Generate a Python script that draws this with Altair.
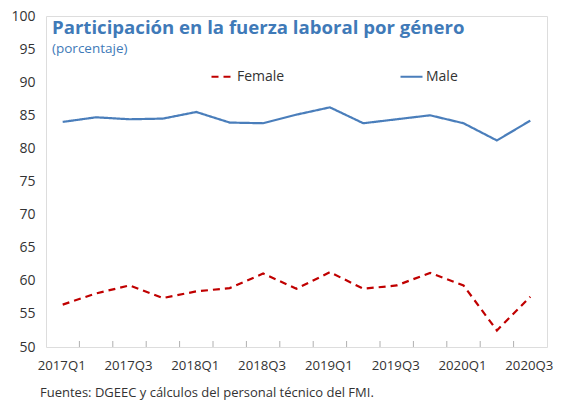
import altair as alt
import pandas as pd

quarters = ["2017Q1", "2017Q2", "2017Q3", "2017Q4", "2018Q1", "2018Q2", "2018Q3", "2018Q4",
            "2019Q1", "2019Q2", "2019Q3", "2019Q4", "2020Q1", "2020Q2", "2020Q3"]
female = [56.4, 58.1, 59.3, 57.4, 58.4, 58.9, 61.1, 58.8, 61.3, 58.8, 59.3, 61.2, 59.3, 52.5, 57.6]
male = [84.0, 84.7, 84.4, 84.5, 85.5, 83.9, 83.8, 85.1, 86.2, 83.8, 84.4, 85.0, 83.8, 81.2, 84.2]
series = ["Female", "Male"]
colors = ["#c00000", "#4a7ebb"]
y_ticks = [50, 55, 60, 65, 70, 75, 80, 85, 90, 95, 100]

title_text = "Participación en la fuerza laboral por género"
subtitle_text = "(porcentaje)"
source_text = "Fuentes: DGEEC y cálculos del personal técnico del FMI."

W, H = 501, 331
FONT = "Open Sans"
BLUE = "#3f7ab8"
BAND = W / len(quarters)

df = pd.DataFrame({
    "q": quarters * 2,
    "v": female + male,
    "s": ["Female"] * len(quarters) + ["Male"] * len(quarters),
})
qdf = pd.DataFrame({"q": quarters[1:]})

x_scale = alt.Scale(domain=quarters, paddingInner=0, paddingOuter=0)
x_axis = alt.Axis(labelExpr="(substring(datum.value,5,6)=='1' || substring(datum.value,5,6)=='3') ? datum.label : ''",
                  labelAngle=0, labelOverlap=False, ticks=False, domain=False, labelOffset=-1,
                  labelPadding=12, labelFontSize=13.2, labelColor="#333333", labelFont=FONT)
leg = dict(orient="none", legendX=164, legendY=48, direction="horizontal",
           symbolType="stroke", symbolSize=484, symbolStrokeWidth=2.2,
           columnPadding=111, labelFontSize=14, labelFont=FONT,
           labelColor="#333333", labelOffset=2, padding=0)

lines = alt.Chart(df).mark_line(strokeWidth=2.2).encode(
    x=alt.X("q:N", sort=quarters, title=None, scale=x_scale, axis=x_axis),
    y=alt.Y("v:Q", title=None,
            scale=alt.Scale(domain=[50, 100], nice=False, zero=False),
            axis=alt.Axis(values=y_ticks, grid=False, domain=False, ticks=False,
                          labelPadding=11, labelFontSize=14, labelColor="#333333", labelFont=FONT)),
    color=alt.Color("s:N", title=None, scale=alt.Scale(domain=series, range=colors),
                    legend=alt.Legend(**leg)),
    strokeDash=alt.StrokeDash("s:N", title=None,
                              scale=alt.Scale(domain=series, range=[[7, 5], [1, 0]]),
                              legend=alt.Legend(**leg)),
)

ticks = alt.Chart(qdf).mark_rule(color="#b0b0b0", strokeWidth=1, xOffset=-BAND / 2).encode(
    x=alt.X("q:N", sort=quarters, title=None, scale=x_scale, axis=x_axis),
    y=alt.value(H - 6),
    y2=alt.value(H),
)

title = alt.Chart(pd.DataFrame({"t": [title_text]})).mark_text(
    align="left", baseline="alphabetic", font=FONT, fontSize=18.6, fontWeight="bold", color=BLUE
).encode(x=alt.value(6), y=alt.value(18), text="t:N")

subtitle = alt.Chart(pd.DataFrame({"t": [subtitle_text]})).mark_text(
    align="left", baseline="middle", font=FONT, fontSize=13.5, color=BLUE
).encode(x=alt.value(6), y=alt.value(33), text="t:N")

source = alt.Chart(pd.DataFrame({"t": [source_text]})).mark_text(
    align="left", baseline="middle", font=FONT, fontSize=13, color="#333333"
).encode(x=alt.value(-6), y=alt.value(377), text="t:N")

chart = alt.layer(lines, ticks, title, subtitle, source).properties(
    width=W, height=H,
    autosize=alt.AutoSizeParams(type="none"),
    padding={"left": 38, "top": 8, "right": 10, "bottom": 53},
).configure_view(stroke="#d9d9d9", strokeWidth=1).configure(background="white")

chart.save("out.html", embed_options={"renderer": "svg", "actions": False})
